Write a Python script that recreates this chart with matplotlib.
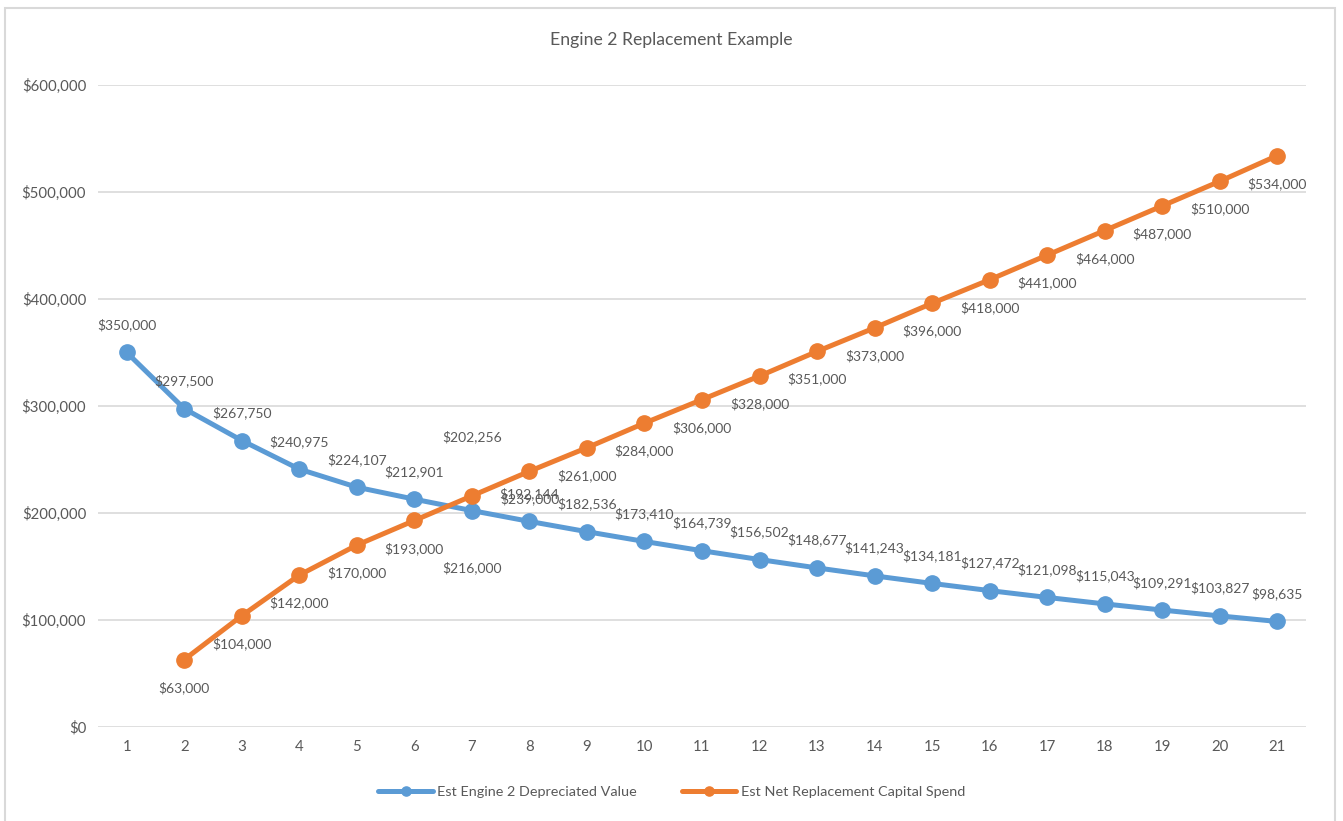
import matplotlib.pyplot as plt
from matplotlib.patches import Rectangle
from matplotlib.ticker import FuncFormatter, MultipleLocator

plt.rcParams['font.family'] = ['Lato', 'DejaVu Sans']

# Engine 2 depreciation vs. replacement capital spend, by year
years = list(range(1, 22))
depreciated_value = [350000, 297500, 267750, 240975, 224107, 212901, 202256,
                     192144, 182536, 173410, 164739, 156502, 148677, 141243,
                     134181, 127472, 121098, 115043, 109291, 103827, 98635]
replacement_spend = [None, 63000, 104000, 142000, 170000, 193000, 216000,
                     239000, 261000, 284000, 306000, 328000, 351000, 373000,
                     396000, 418000, 441000, 464000, 487000, 510000, 534000]

blue = '#5B9BD5'
orange = '#ED7D31'
text_col = '#595959'
grid_col = '#D9D9D9'

# label offsets in points (year 7 labels were nudged further away)
blue_off = [20] * 21
blue_off[6] = 53
orange_off = [-20] * 21
orange_off[6] = -52

fig = plt.figure(figsize=(13.43, 8.21), dpi=100)
ax = fig.add_axes([98 / 1343, 1 - 727 / 821, (1306 - 98) / 1343, (727 - 85) / 821])

# chart border
fig.patches.append(Rectangle((5 / 1343, -0.05), 1330 / 1343, 1 - 8 / 821 + 0.05,
                             transform=fig.transFigure, fill=False,
                             edgecolor='#D9D9D9', linewidth=1.5))

ax.plot(years, depreciated_value, color=blue, lw=3.6, marker='o', ms=11,
        solid_capstyle='round', label='Est Engine 2 Depreciated Value', zorder=3)
xs = [x for x, v in zip(years, replacement_spend) if v is not None]
vs = [v for v in replacement_spend if v is not None]
ax.plot(xs, vs, color=orange, lw=3.6, marker='o', ms=11,
        solid_capstyle='round', label='Est Net Replacement Capital Spend', zorder=4)

for x, v, off in zip(years, depreciated_value, blue_off):
    ax.annotate(f'${v:,.0f}', (x, v), xytext=(0, off), textcoords='offset points',
                ha='center', va='center', fontsize=10, color=text_col, zorder=5)
for x, v, off in zip(years, replacement_spend, orange_off):
    if v is None:
        continue
    ax.annotate(f'${v:,.0f}', (x, v), xytext=(0, off), textcoords='offset points',
                ha='center', va='center', fontsize=10, color=text_col, zorder=5)

ax.set_xlim(0.5, 21.5)
ax.set_ylim(0, 600000)
ax.set_xticks(years)
ax.yaxis.set_major_locator(MultipleLocator(100000))
ax.yaxis.set_major_formatter(FuncFormatter(lambda v, p: f'${v:,.0f}'))
ax.grid(axis='y', color=grid_col, lw=1.2)
ax.set_axisbelow(True)
for s in ax.spines.values():
    s.set_visible(False)
ax.tick_params(length=0, labelsize=10.8, colors=text_col)
ax.tick_params(axis='x', pad=9)
ax.tick_params(axis='y', pad=8.5)

fig.text(0.5, 1 - 40 / 821, 'Engine 2 Replacement Example', ha='center', va='center',
         fontsize=12.7, color=text_col)

fig.legend(loc='center', bbox_to_anchor=(0.5, 1 - 792 / 821), ncol=2, frameon=False,
           fontsize=10.4, labelcolor=text_col, handlelength=3.8, handletextpad=0.28,
           columnspacing=3.1, markerscale=0.6)

fig.savefig('out.png', dpi=100)
